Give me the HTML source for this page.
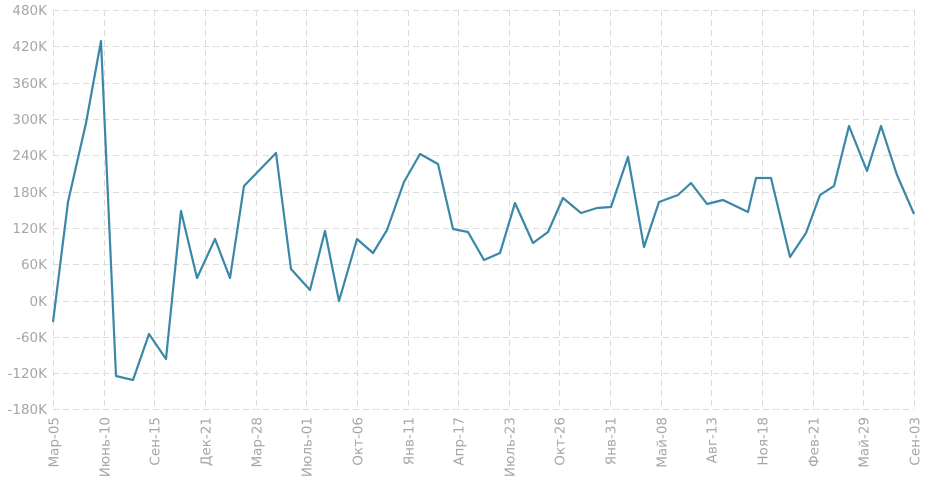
<!DOCTYPE html>
<html><head><meta charset="utf-8"><style>
html,body{margin:0;padding:0;background:#fff;}
svg text{font-family:"DejaVu Sans","Liberation Sans",sans-serif;font-size:13.5px;fill:#a6a6a6;}
</style></head><body>
<svg width="932" height="490" xmlns="http://www.w3.org/2000/svg">
<g stroke="#dcdcdc" stroke-width="1" stroke-dasharray="6,4" fill="none">
<line x1="53" x2="914" y1="10.5" y2="10.5"/>
<line x1="53" x2="914" y1="46.5" y2="46.5"/>
<line x1="53" x2="914" y1="83.5" y2="83.5"/>
<line x1="53" x2="914" y1="119.5" y2="119.5"/>
<line x1="53" x2="914" y1="155.5" y2="155.5"/>
<line x1="53" x2="914" y1="192.5" y2="192.5"/>
<line x1="53" x2="914" y1="228.5" y2="228.5"/>
<line x1="53" x2="914" y1="264.5" y2="264.5"/>
<line x1="53" x2="914" y1="301.5" y2="301.5"/>
<line x1="53" x2="914" y1="337.5" y2="337.5"/>
<line x1="53" x2="914" y1="373.5" y2="373.5"/>
<line x1="53" x2="914" y1="409.5" y2="409.5"/>
</g>
<g stroke="#dcdcdc" stroke-width="1" stroke-dasharray="6,4" id="vg"></g>
<g text-anchor="end">
<text x="47" y="15">480K</text>
<text x="47" y="51">420K</text>
<text x="47" y="88">360K</text>
<text x="47" y="124">300K</text>
<text x="47" y="160">240K</text>
<text x="47" y="197">180K</text>
<text x="47" y="233">120K</text>
<text x="47" y="269">60K</text>
<text x="47" y="306">0K</text>
<text x="47" y="342">-60K</text>
<text x="47" y="378">-120K</text>
<text x="47" y="414">-180K</text>
</g>
<g id="xl" text-anchor="end"></g>
<polyline fill="none" stroke="#3a87a8" stroke-width="2.2" stroke-linejoin="round" points="53,322 68,202 86,123 101,41 116,376 133,380 149,334 166,359 181,211 197,278 215,239 230,278 244,186 276,153 291,269 310,290 325,231 339,301 357,239 373,253 387,230 404,182 420,154 438,164 453,229 468,232 484,260 500,253 515,203 533,243 548,232 563,198 581,213 597,208 611,207 628,157 644,247 659,202 678,195 691,183 707,204 723,200 748,212 756,178 771,178 790,257 806,233 820,195 834,186 849,126 867,171 881,126 897,175 914,214"/>
<script>
var labs=["Мар-05","Июнь-10","Сен-15","Дек-21","Мар-28","Июль-01","Окт-06","Янв-11","Апр-17","Июль-23","Окт-26","Янв-31","Май-08","Авг-13","Ноя-18","Фев-21","Май-29","Сен-03"];
var ns="http://www.w3.org/2000/svg",vg=document.getElementById("vg"),xl=document.getElementById("xl");
labs.forEach(function(t,i){var x=53+i*(861/17);x=Math.round(x)+0.5;
var l=document.createElementNS(ns,"line");l.setAttribute("x1",x);l.setAttribute("x2",x);l.setAttribute("y1",10);l.setAttribute("y2",410);vg.appendChild(l);
var tx=document.createElementNS(ns,"text");tx.setAttribute("transform","translate("+(x+5)+",417) rotate(-90)");tx.textContent=t;xl.appendChild(tx);});
</script>
</svg>
</body></html>
